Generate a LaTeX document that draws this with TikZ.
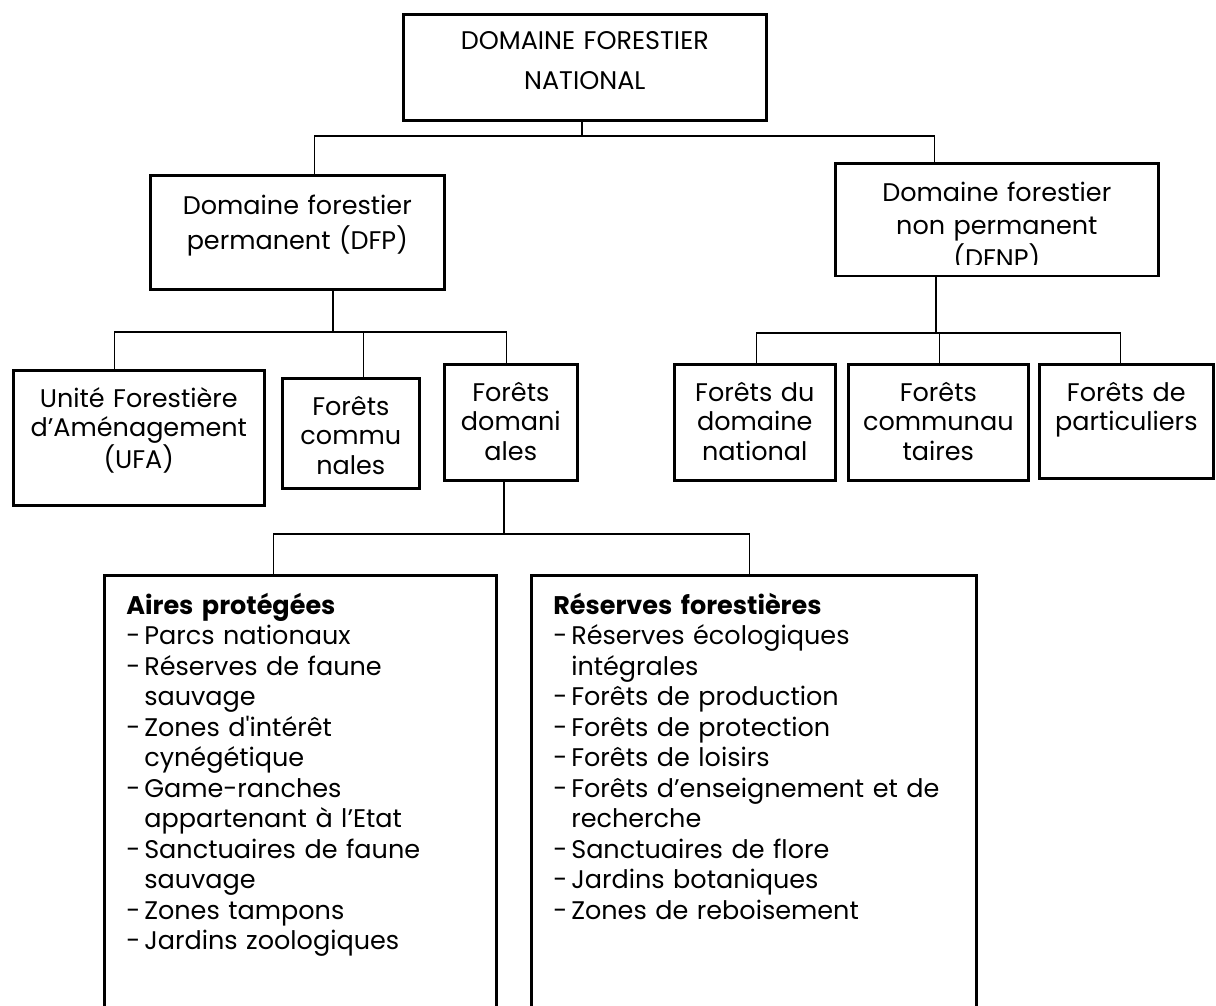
\documentclass[tikz,border=0pt]{standalone}
\usepackage{fontspec}
\setmainfont{Poppins}
\newcommand{\tiret}{\makebox[18pt][l]{-}}
\newcommand{\suite}{\makebox[18pt]{}}

\begin{document}
\begin{tikzpicture}[
      x=1pt,y=-1pt,
      boite/.style={draw, line width=2.6pt, anchor=north west, align=center, inner sep=0pt,
        text height=37pt, font=\fontsize{25.5}{29.5}\selectfont},
      liste/.style={boite, align=left, inner xsep=22pt, text height=39pt,
        font=\fontsize{25.5}{30.5}\selectfont},
      lien/.style={line width=1.3pt}
      ]

      \useasboundingbox (0,0) rectangle (1216,1005);
      \clip (0,0) rectangle (1216,1005);

      \node[boite, text width=363pt, text height=35pt, text depth=71pt,
        font=\fontsize{25.5}{40}\selectfont] (national) at (402,13)
        {DOMAINE FORESTIER\\ NATIONAL};

      \node[boite, text width=294pt, text height=39pt, text depth=75pt,
        font=\fontsize{25.5}{35}\selectfont] (dfp) at (149,174)
        {Domaine forestier\\ permanent (DFP)};
      \node[boite, text width=323pt, text height=38pt, text depth=74pt,
        font=\fontsize{25.5}{33}\selectfont] (dfnp) at (834,162)
        {Domaine forestier\\ non permanent\\ (DFNP)};
      % third line cut by the box
      \fill[white] ([xshift=3,yshift=12]dfnp.south west) rectangle ([xshift=-3,yshift=1.4]dfnp.south east);

      \node[boite, text width=251pt, text depth=98pt] (ufa) at (12,369)
        {Unité Forestière\\ d’Aménagement\\ (UFA)};
      \node[boite, text width=137pt, text depth=73pt] (communales) at (281,377)
        {Forêts\\ commu\\ nales};
      \node[boite, text width=133pt, text depth=79pt] (domaniales) at (443,363)
        {Forêts\\ domani\\ ales};

      \node[boite, text width=161pt, text depth=79pt] (fdn) at (673,363)
        {Forêts du\\ domaine\\ national};
      \node[boite, text width=180pt, text depth=79pt] (communautaires) at (847,363)
        {Forêts\\ communau\\ taires};
      \node[boite, text width=174pt, text depth=77pt] (particuliers) at (1038,363)
        {Forêts de\\ particuliers};

      \node[liste, text width=348pt, text depth=420pt] (aires) at (103,574)
        {\textbf{Aires protégées}\\
         \tiret Parcs nationaux\\
         \tiret Réserves de faune\\
         \suite sauvage\\
         \tiret Zones d\textquotesingle intérêt\\
         \suite cynégétique\\
         \tiret Game-ranches\\
         \suite appartenant à l’Etat\\
         \tiret Sanctuaires de faune\\
         \suite sauvage\\
         \tiret Zones tampons\\
         \tiret Jardins zoologiques};
      \node[liste, text width=401pt, text depth=420pt] (reserves) at (530,574)
        {\textbf{Réserves forestières}\\
         \tiret Réserves écologiques\\
         \suite intégrales\\
         \tiret Forêts de production\\
         \tiret Forêts de protection\\
         \tiret Forêts de loisirs\\
         \tiret \makebox[383pt][s]{Forêts d’enseignement et de}\\
         \suite recherche\\
         \tiret Sanctuaires de flore\\
         \tiret Jardins botaniques\\
         \tiret Zones de reboisement};

      %level one edges
      \coordinate (bus0) at (582,136);
      \draw[lien] (national.south -| bus0) -- (bus0);
      \draw[lien] ([xshift=17]dfp.north) |- (bus0) -| ([xshift=-62]dfnp.north);

      %level two edges
      \coordinate (bus1) at (333,332);
      \draw[lien] (dfp.south -| bus1) -- (bus1);
      \draw[lien] ([xshift=-24]ufa.north) |- (bus1) -| ([xshift=-4]domaniales.north);
      \draw[lien] ([xshift=13]communales.north) -- ([xshift=13]communales.north |- bus1);

      \coordinate (bus2) at (936,333);
      \draw[lien] (dfnp.south -| bus2) -- (bus2);
      \draw[lien] ([xshift=2]fdn.north) |- (bus2) -| ([xshift=-6]particuliers.north);
      \draw[lien] ([xshift=1]communautaires.north) -- ([xshift=1]communautaires.north |- bus2);

      %level three edges
      \coordinate (bus3) at (504,534);
      \draw[lien] (domaniales.south -| bus3) -- (bus3);
      \draw[lien] ([xshift=-27]aires.north) |- (bus3) -| ([xshift=-4]reserves.north);
    \end{tikzpicture}
\end{document}
